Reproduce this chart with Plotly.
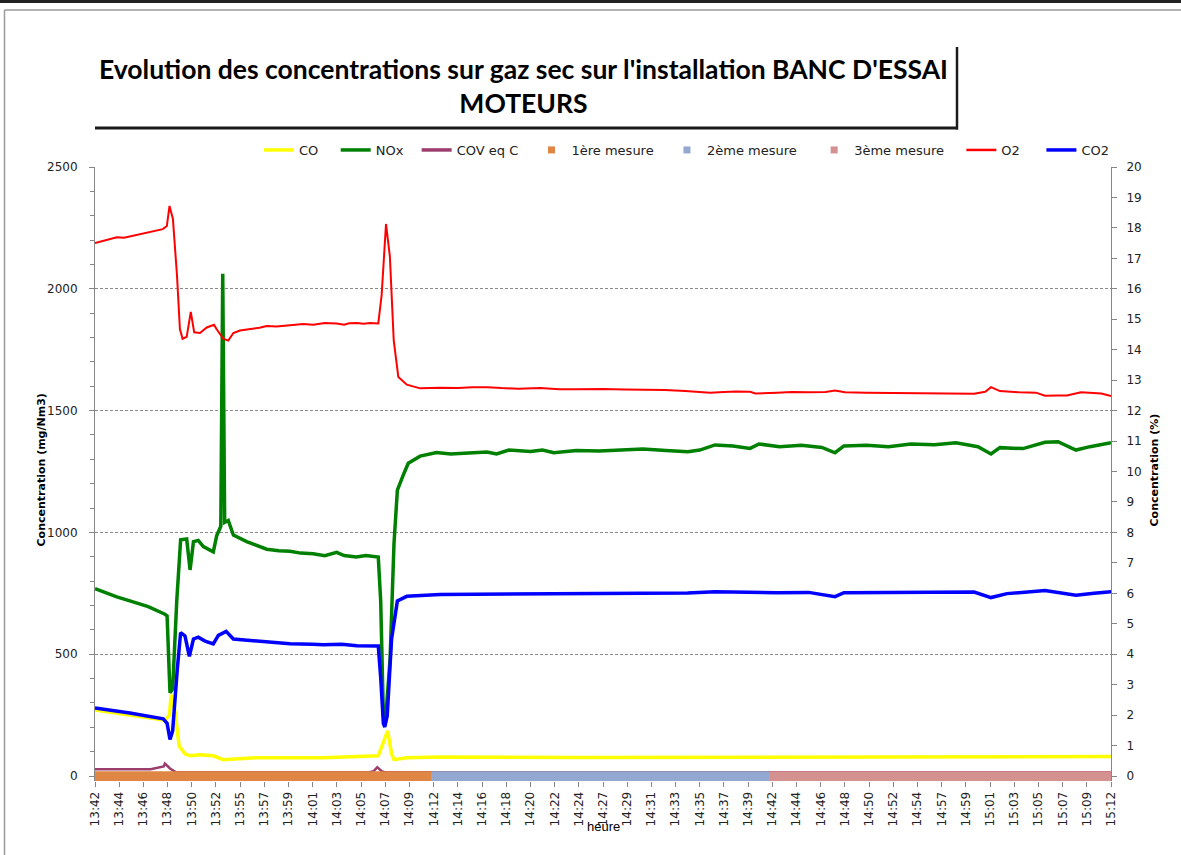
import plotly.graph_objects as go

# ---------------- data ----------------
tick_labels = ["13:42", "13:44", "13:46", "13:48", "13:50", "13:52", "13:55", "13:57", "13:59",
               "14:01", "14:03", "14:05", "14:07", "14:09", "14:12", "14:14", "14:16", "14:18",
               "14:20", "14:22", "14:24", "14:27", "14:29", "14:31", "14:33", "14:35", "14:37",
               "14:39", "14:42", "14:44", "14:46", "14:48", "14:50", "14:52", "14:54", "14:57",
               "14:59", "15:01", "15:03", "15:05", "15:07", "15:09", "15:12"]

# positions are expressed in category-axis units (one unit = one labelled tick)
o2_pos = [0, 0.5, 0.9, 1.2, 1.57, 2.21, 2.80, 2.97, 3.08, 3.22, 3.39, 3.51, 3.62, 3.79, 3.96, 4.10,
          4.34, 4.62, 4.92, 5.03, 5.30, 5.51, 5.72, 5.99, 6.5, 6.8, 7.1, 7.5, 8.06, 8.6, 9.02, 9.5,
          9.99, 10.3, 10.5, 10.82, 11.1, 11.37, 11.71, 11.85, 12.03, 12.19, 12.35, 12.54, 12.89,
          13.44, 14.26, 15.0, 15.6, 16.21, 16.8, 17.5, 18.4, 19.2, 19.88, 21.0, 21.9, 22.5, 23.56,
          24.4, 25.42, 26.0, 26.5, 27.08, 27.3, 28.19, 28.8, 29.5, 30.2, 30.59, 31.0, 31.87, 32.8,
          33.73, 34.4, 35.0, 35.7, 36.34, 36.8, 37.04, 37.41, 37.8, 38.2, 38.90, 39.27, 39.8,
          40.18, 40.76, 41.2, 41.6, 42.0]
o2_val = [17.5, 17.6, 17.69, 17.68, 17.75, 17.85, 17.96, 18.06, 18.72, 18.3, 16.43, 14.68, 14.36,
          14.42, 15.24, 14.57, 14.55, 14.73, 14.82, 14.67, 14.36, 14.30, 14.55, 14.63, 14.68, 14.72,
          14.78, 14.76, 14.80, 14.84, 14.82, 14.88, 14.86, 14.82, 14.87, 14.88, 14.85, 14.88, 14.86,
          15.80, 18.13, 17.06, 14.30, 13.10, 12.85, 12.73, 12.75, 12.74, 12.77, 12.77, 12.74, 12.72,
          12.74, 12.70, 12.70, 12.71, 12.69, 12.68, 12.68, 12.64, 12.59, 12.61, 12.63, 12.62, 12.56,
          12.59, 12.61, 12.60, 12.61, 12.66, 12.60, 12.59, 12.58, 12.57, 12.58, 12.56, 12.56, 12.55,
          12.62, 12.77, 12.64, 12.62, 12.60, 12.59, 12.49, 12.50, 12.50, 12.60, 12.57, 12.56, 12.48]

nox_pos = [0, 0.9, 1.44, 2.2, 2.89, 2.98, 3.10, 3.21, 3.38, 3.54, 3.79, 3.93, 4.07, 4.27, 4.48,
           4.89, 5.03, 5.20, 5.28, 5.36, 5.51, 5.72, 6.27, 6.7, 7.10, 7.6, 8.06, 8.5, 9.02, 9.5,
           9.99, 10.3, 10.8, 11.2, 11.71, 11.81, 11.92, 12.00, 12.20, 12.36, 12.50, 12.75, 12.95,
           13.44, 14.12, 14.7, 15.30, 16.2, 16.6, 17.11, 18.0, 18.5, 18.97, 19.9, 20.84, 21.7,
           22.65, 23.6, 24.51, 25.0, 25.63, 26.37, 27.08, 27.45, 28.3, 29.2, 30.05, 30.59, 30.96,
           31.9, 32.8, 33.73, 34.7, 35.59, 36.50, 37.04, 37.41, 38.36, 39.27, 39.81, 40.55, 41.13,
           42.0]
nox_val = [769, 735, 719, 695, 664, 657, 342, 357, 719, 970, 973, 846, 962, 967, 942, 920, 986,
           1025, 2062, 1041, 1049, 989, 962, 945, 931, 925, 923, 915, 912, 904, 918, 905, 899, 905,
           899, 719, 248, 216, 483, 954, 1174, 1237, 1284, 1313, 1328, 1322, 1325, 1330, 1322, 1338,
           1332, 1338, 1327, 1336, 1334, 1338, 1342, 1336, 1331, 1338, 1359, 1355, 1345, 1363, 1352,
           1358, 1349, 1327, 1355, 1358, 1352, 1363, 1360, 1368, 1352, 1322, 1348, 1344, 1370, 1372,
           1338, 1352, 1368]

co2_pos = [0, 1.44, 2.82, 2.98, 3.10, 3.21, 3.40, 3.54, 3.72, 3.90, 4.07, 4.27, 4.55, 4.89, 5.10,
           5.42, 5.72, 6.68, 7.5, 8.06, 9.0, 9.43, 10.2, 10.82, 11.71, 11.81, 11.92, 11.98, 12.08,
           12.26, 12.50, 12.89, 14.26, 16.0, 18.97, 21.0, 22.65, 24.5, 25.63, 27.0, 28.19, 29.5,
           30.59, 30.96, 32.5, 33.73, 35.0, 36.34, 37.04, 37.7, 39.27, 40.55, 41.3, 42.0]
co2_val = [2.23, 2.07, 1.88, 1.73, 1.20, 1.48, 3.49, 4.71, 4.60, 3.93, 4.50, 4.56, 4.43, 4.34, 4.62,
           4.75, 4.50, 4.43, 4.38, 4.34, 4.33, 4.31, 4.33, 4.28, 4.27, 3.24, 1.73, 1.61, 1.98, 4.50,
           5.75, 5.90, 5.96, 5.97, 5.98, 5.99, 6.00, 6.01, 6.05, 6.03, 6.02, 6.03, 5.89, 6.02, 6.03,
           6.05, 6.04, 6.04, 5.86, 5.99, 6.09, 5.94, 6.00, 6.05]

co_pos = [0, 1.44, 2.89, 3.07, 3.15, 3.31, 3.48, 3.72, 3.93, 4.34, 4.89, 5.30, 6.68, 9.43, 11.71,
          11.92, 12.10, 12.26, 12.36, 12.89, 14.26, 20.0, 28.0, 35.0, 42.0]
co_val = [271, 251, 229, 248, 334, 264, 122, 91, 83, 87, 83, 67, 75, 75, 83, 138, 185, 91, 67, 75,
          78, 76, 78, 77, 80]

cov_pos = [0, 2.3, 2.84, 2.89, 3.10, 3.35, 11.3, 11.52, 11.67, 11.85, 12.0, 42.0]
cov_val = [28, 28, 39, 51, 31, 15, 15, 20, 36, 20, 15, 15]

phase_names = ["1ère mesure", "2ème mesure", "3ème mesure"]
phase_start = [0, 13.89, 27.90]
phase_end = [13.89, 27.90, 42.0]
phase_colors = ["#DF8644", "#92A8D1", "#D4918F"]

# ---------------- figure ----------------
FONT = "DejaVu Sans"
NB = "\u00a0"
fig = go.Figure()

# measurement phases (drawn as a thin band on the bottom axis)
for name, s, e, c in zip(phase_names, phase_start, phase_end, phase_colors):
    fig.add_trace(go.Bar(x=[(s + e) / 2], width=[e - s], y=[0.32], base=[-0.16],
                         marker=dict(color=c, line=dict(width=0)), yaxis="y2",
                         showlegend=False, hoverinfo="skip"))

fig.add_trace(go.Scatter(x=cov_pos, y=cov_val, mode="lines", name="COV eq C",
                         line=dict(color="#9B3D6E", width=2.5), showlegend=False))
fig.add_trace(go.Scatter(x=co_pos, y=co_val, mode="lines", name="CO",
                         line=dict(color="#FFFF00", width=3.5), showlegend=False))
fig.add_trace(go.Scatter(x=nox_pos, y=nox_val, mode="lines", name="NOx",
                         line=dict(color="#008000", width=3.5), showlegend=False))
fig.add_trace(go.Scatter(x=o2_pos, y=o2_val, mode="lines", name="O2", yaxis="y2",
                         line=dict(color="#FF0000", width=2), showlegend=False))
fig.add_trace(go.Scatter(x=co2_pos, y=co2_val, mode="lines", name="CO2", yaxis="y2",
                         line=dict(color="#0000FF", width=3.5), showlegend=False))

# legend entries (in the reference order); trailing no-break spaces widen the item spacing
legend_items = [("CO", "line", "#FFFF00", 3.5, 3), ("NOx", "line", "#008000", 3.5, 2),
                ("COV eq C", "line", "#9B3D6E", 3.5, 2)]
legend_items += [(n, "square", c, 0, k) for n, c, k in zip(phase_names, phase_colors, [2, 3, 3])]
legend_items += [("O2", "line", "#FF0000", 2.5, 4), ("CO2", "line", "#0000FF", 3.5, 0)]
for name, kind, color, w, pad in legend_items:
    label = name + NB * pad
    if kind == "line":
        fig.add_trace(go.Scatter(x=[None], y=[None], mode="lines", name=label,
                                 line=dict(color=color, width=w)))
    else:
        fig.add_trace(go.Scatter(x=[None], y=[None], mode="markers", name=label,
                                 marker=dict(symbol="square", size=7, color=color)))

L, R, T, B = 95, 70, 167, 74
W, H = 1181, 855
pw, ph = W - L - R, H - T - B


def px(xp):
    return (xp - L) / pw


def py(yp):
    return (H - B - yp) / ph


axis_gray = "#868686"
fig.update_layout(
    width=W, height=H,
    margin=dict(l=L, r=R, t=T, b=B),
    paper_bgcolor="white", plot_bgcolor="white",
    barmode="overlay",
    font=dict(family=FONT, size=12, color="#222222"),
    legend=dict(orientation="h", x=px(259), xanchor="left", y=py(150), yanchor="middle",
                font=dict(family=FONT, size=13, color="#222222"),
                bgcolor="rgba(0,0,0,0)", traceorder="normal"),
    xaxis=dict(range=[0, 42], tickmode="array", tickvals=list(range(len(tick_labels))),
               ticktext=tick_labels, tickangle=-90, ticks="outside", ticklen=5,
               tickcolor=axis_gray, showgrid=False, zeroline=False, showline=False,
               tickfont=dict(family=FONT, size=12, color="#222222")),
    yaxis=dict(range=[-20.5, 2500], tick0=0, dtick=500, ticks="outside", ticklen=5,
               tickcolor=axis_gray, showline=True, linecolor=axis_gray, linewidth=1,
               showgrid=True, gridcolor="#8a8a8a", griddash="3px,2px", gridwidth=1,
               zeroline=False, ticklabelstandoff=9,
               minor=dict(dtick=100, tick0=0, ticks="outside", ticklen=4, tickcolor=axis_gray,
                          showgrid=False),
               tickfont=dict(family=FONT, size=12, color="#222222")),
    yaxis2=dict(range=[-0.164, 20], tick0=0, dtick=1, overlaying="y", side="right",
                ticks="outside", ticklen=5, tickcolor=axis_gray, showline=True,
                linecolor=axis_gray, linewidth=1, showgrid=False, zeroline=False,
                ticklabelstandoff=7,
                tickfont=dict(family=FONT, size=12, color="#222222")),
)

# chart title
fig.add_annotation(text="<b>Evolution des concentrations sur gaz sec sur l'installation BANC D'ESSAI<br>MOTEURS</b>",
                   xref="paper", yref="paper", x=px(523), y=py(86), xanchor="center",
                   yanchor="middle", showarrow=False,
                   font=dict(family="Lato", size=26.5, color="#000000"))

# axis titles
fig.add_annotation(text="<b>Concentration (mg/Nm3)</b>", xref="paper", yref="paper",
                   x=px(32), y=py(470), textangle=-90, showarrow=False,
                   font=dict(family=FONT, size=11, color="#000000"))
fig.add_annotation(text="<b>Concentration (%)</b>", xref="paper", yref="paper",
                   x=px(1162), y=py(470), textangle=-90, showarrow=False,
                   font=dict(family=FONT, size=11, color="#000000"))
fig.add_annotation(text="heure", xref="paper", yref="paper", x=px(603), y=py(836),
                   showarrow=False, font=dict(family="Liberation Sans", size=13, color="#000000"))

# chart frame and title box
fig.add_shape(type="line", xref="paper", yref="paper", x0=px(0), x1=px(W), y0=py(1.5), y1=py(1.5),
              line=dict(color="#222222", width=3))
fig.add_shape(type="line", xref="paper", yref="paper", x0=px(4.5), x1=px(W), y0=py(10), y1=py(10),
              line=dict(color="#9a9a9a", width=1.5))
fig.add_shape(type="line", xref="paper", yref="paper", x0=px(4.5), x1=px(4.5), y0=py(10), y1=py(H),
              line=dict(color="#9a9a9a", width=1.5))
fig.add_shape(type="line", xref="paper", yref="paper", x0=px(95), x1=px(958), y0=py(128), y1=py(128),
              line=dict(color="#1a1a1a", width=3))
fig.add_shape(type="line", xref="paper", yref="paper", x0=px(957), x1=px(957), y0=py(47), y1=py(129.5),
              line=dict(color="#1a1a1a", width=2.5))

fig.write_html("out.html", config={"displayModeBar": False},
               post_script="document.body.style.margin='0';")
